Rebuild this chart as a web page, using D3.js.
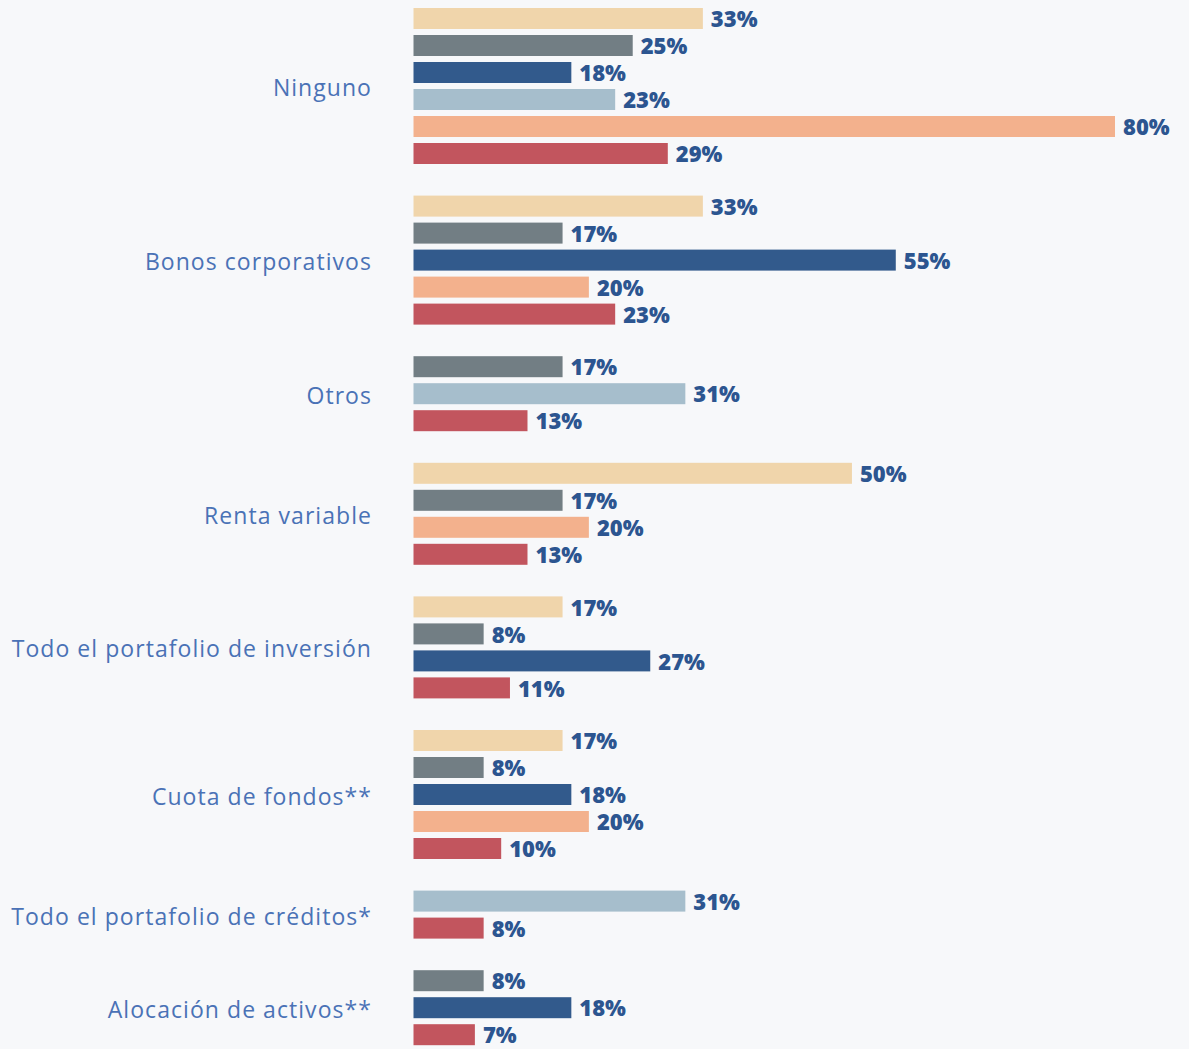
<!DOCTYPE html>
<html>
<head>
<meta charset="utf-8">
<style>
body { margin: 0; background: #f7f8fa; }
svg { display: block; }
.cat { font-family: "Open Sans", sans-serif; font-weight: 400; font-size: 23px; letter-spacing: 1.05px; fill: #4a72b6; }
.val { font-family: "Open Sans", sans-serif; font-weight: 800; font-size: 22px; fill: #2c5590; }
</style>
</head>
<body>
<svg width="1189" height="1049"></svg>
<script src="https://d3js.org/d3.v7.min.js"></script>
<script>
// categories, top to bottom
var categories = [
  "Ninguno",
  "Bonos corporativos",
  "Otros",
  "Renta variable",
  "Todo el portafolio de inversión",
  "Cuota de fondos**",
  "Todo el portafolio de créditos*",
  "Alocación de activos**"
];

// one value per category for each series (null = no bar)
var serieA = [33, 33, null, 50, 17, 17, null, null];   // beige
var serieB = [25, 17, 17, 17, 8, 8, null, 8];          // gris
var serieC = [18, 55, null, null, 27, 18, null, 18];   // azul oscuro
var serieD = [23, null, 31, null, null, null, 31, null]; // azul claro
var serieE = [80, 20, null, 20, null, 20, null, null]; // salmón
var serieF = [29, 23, 13, 13, 11, 10, 8, 7];           // rojo

var seriesColors = ["#f0d5ab", "#727e84", "#325a8c", "#a6becc", "#f3b18d", "#c2555e"];

var allSeries = [serieA, serieB, serieC, serieD, serieE, serieF];

// flatten into rows, skipping empty values
var rows = [];
var groups = [];
categories.forEach(function(cat, ci) {
  var first = rows.length;
  allSeries.forEach(function(s, si) {
    if (s[ci] != null) {
      rows.push({ cat: cat, group: ci, series: si, value: s[ci], row: rows.length });
    }
  });
  groups.push({ cat: cat, group: ci, first: first, last: rows.length - 1 });
});

var svg = d3.select("svg");

var rowStep = 27, groupGap = 25.6, barH = 21, top0 = 8;
function rowTop(row, group) { return top0 + row * rowStep + group * groupGap; }

var x = d3.scaleLinear().domain([0, 80]).range([413.5, 1115]);

svg.append("g").selectAll("rect")
  .data(rows)
  .enter().append("rect")
    .attr("x", x(0))
    .attr("y", function(d) { return rowTop(d.row, d.group); })
    .attr("width", function(d) { return x(d.value) - x(0); })
    .attr("height", barH)
    .attr("fill", function(d) { return seriesColors[d.series]; });

svg.append("g").selectAll("text")
  .data(rows)
  .enter().append("text")
    .attr("class", "val")
    .attr("x", function(d) { return x(d.value) + 8; })
    .attr("y", function(d) { return rowTop(d.row, d.group) + barH / 2 + 1; })
    .attr("dy", "0.35em")
    .text(function(d) { return d.value + "%"; });

svg.append("g").selectAll("text")
  .data(groups)
  .enter().append("text")
    .attr("class", "cat")
    .attr("x", 372)
    .attr("text-anchor", "end")
    .attr("y", function(d) {
      var t = rowTop(d.first, d.group), b = rowTop(d.last, d.group) + barH;
      return (t + b) / 2 + 2;
    })
    .attr("dy", "0.35em")
    .text(function(d) { return d.cat; });
</script>
</body>
</html>
